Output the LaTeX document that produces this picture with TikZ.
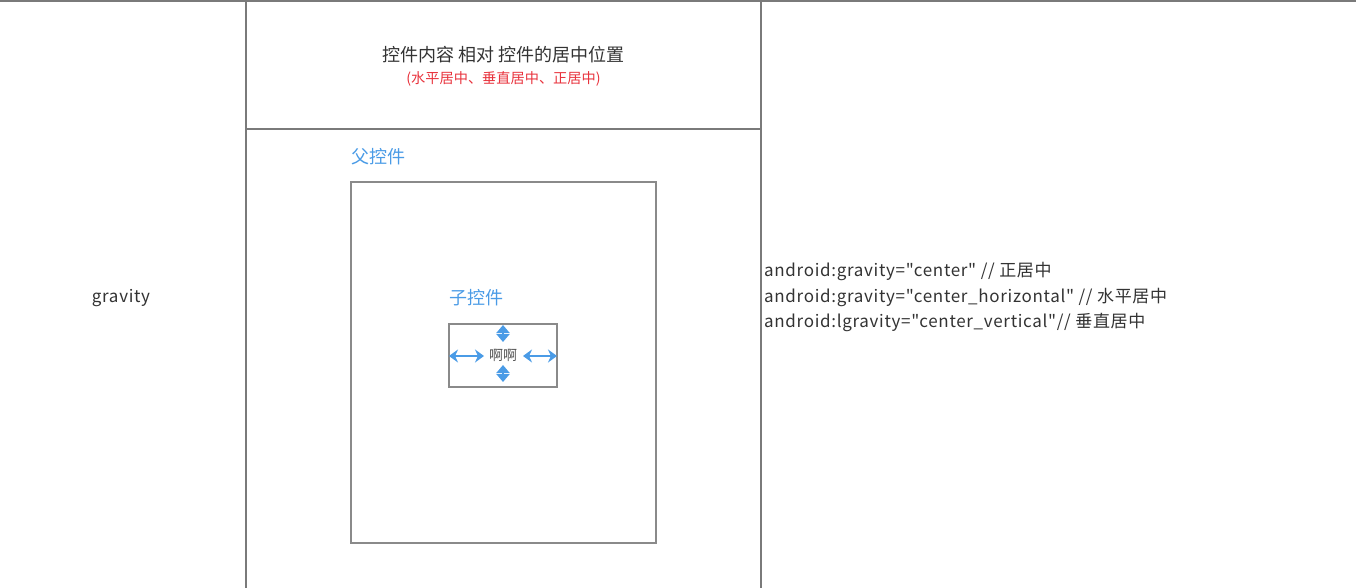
\documentclass[tikz,border=0pt]{standalone}
\usepackage{fontspec}
\setmainfont{Noto Sans CJK SC}
\newfontfamily\codefont[LetterSpace=4]{Noto Sans CJK SC}
\usetikzlibrary{arrows.meta,positioning}
\definecolor{GridGray}{HTML}{7A7A7A}
\definecolor{BoxGray}{HTML}{8A8A8A}
\definecolor{HintBlue}{HTML}{4A9BE6}
\definecolor{HintRed}{HTML}{E8323C}
\definecolor{TextDark}{HTML}{333333}

\begin{document}
\begin{tikzpicture}[x=1pt,y=-1pt, every node/.style={font=\fontsize{17}{20}\selectfont,text=TextDark,inner sep=0pt}]
\useasboundingbox (0,0) rectangle (1356,588);
% table lines
\draw[GridGray,line width=1.5pt] (0,1) -- (1356,1);
\draw[GridGray,line width=2pt] (246,0) -- (246,588);
\draw[GridGray,line width=2pt] (761,0) -- (761,588);
\draw[GridGray,line width=2pt] (246,129) -- (761,129);
% left cell
\node[font=\codefont\fontsize{17}{20}\selectfont] (name) at (121,298) {gravity};
% header cell
\node[font=\fontsize{18}{20}\selectfont] (title) at (503.5,55) {控件内容 相对 控件的居中位置};
\node[font=\fontsize{14.2}{16}\selectfont,text=HintRed,below=8pt of title] (sub) {(水平居中、垂直居中、正居中)};
% parent and child
\node[draw=BoxGray,line width=1.2pt,minimum width=305pt,minimum height=361pt] (parent) at (503.5,362.5) {};
\node[font=\fontsize{18}{20}\selectfont,text=HintBlue,anchor=west] (parentlbl) at (351,157) {父控件};
\node[draw=BoxGray,line width=1.2pt,minimum width=108pt,minimum height=63pt] (child) at (503,355.5) {};
\node[font=\fontsize{18}{20}\selectfont,text=HintBlue,anchor=west] (childlbl) at (449,298) {子控件};
\node[font=\fontsize{14}{16}\selectfont,text=TextDark!85] (content) at (child) {啊啊};
\coordinate (lin) at (449,356);
\coordinate (lout) at (484,356);
\coordinate (rin) at (523,356);
\coordinate (rout) at (557,356);
\coordinate (ta) at (503,325);
\coordinate (tb) at (503,342);
\coordinate (ba) at (503,365);
\coordinate (bb) at (503,382);
\draw[HintBlue,line width=2pt,{Stealth[length=9pt,width=13pt]}-{Stealth[length=9pt,width=13pt]}] (lin) -- (lout);
\draw[HintBlue,line width=2pt,{Stealth[length=9pt,width=13pt]}-{Stealth[length=9pt,width=13pt]}] (rin) -- (rout);
\draw[HintBlue,line width=2pt,{Triangle[length=8pt,width=13pt]}-{Triangle[length=8pt,width=13pt]}] (ta) -- (tb);
\draw[HintBlue,line width=2pt,{Triangle[length=8pt,width=13pt]}-{Triangle[length=8pt,width=13pt]}] (ba) -- (bb);
% right cell
\node[font=\codefont\fontsize{17}{20}\selectfont,anchor=west] (code1) at (764,271) {android:gravity="center" // 正居中};
\node[font=\codefont\fontsize{17}{20}\selectfont,anchor=west] (code2) at (764,297) {android:gravity="center\_horizontal" // 水平居中};
\node[font=\codefont\fontsize{17}{20}\selectfont,anchor=west] (code3) at (764,322) {android:lgravity="center\_vertical"// 垂直居中};
\end{tikzpicture}
\end{document}
